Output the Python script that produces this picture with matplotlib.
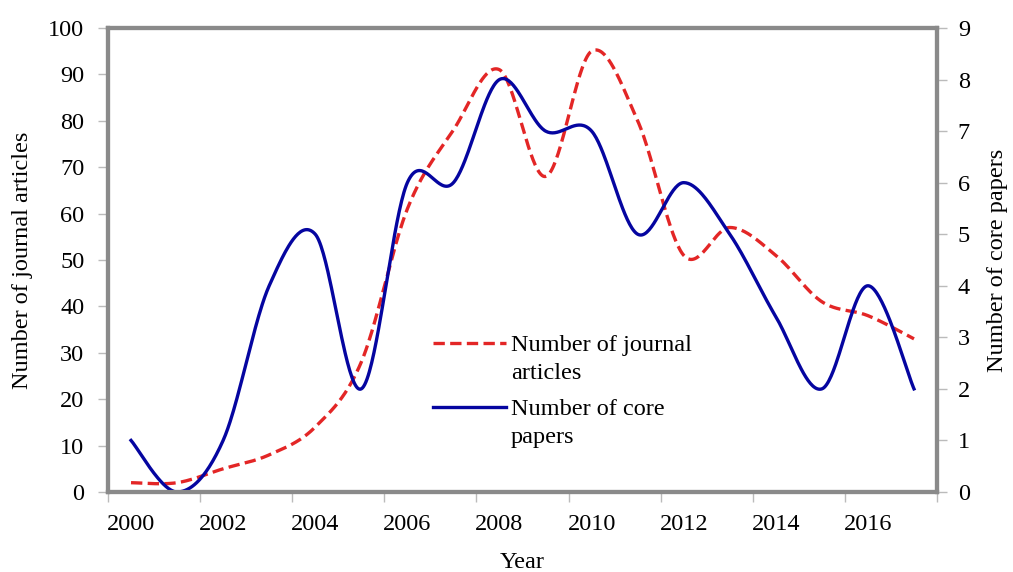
import numpy as np
import matplotlib.pyplot as plt
from matplotlib.offsetbox import HPacker

plt.rcParams['font.family'] = ['Liberation Serif', 'DejaVu Serif']

years = list(range(2000, 2018))
journal_articles = [2, 2, 5, 8, 14, 28, 61, 78, 91, 68, 95, 80, 51, 57, 51, 41, 38, 33]
core_papers = [1, 0, 1, 4, 5, 2, 6, 6, 8, 7, 7, 5, 6, 5, 3.4, 2, 4, 2]
year_labels = [str(y) for y in range(2000, 2017, 2)]

RED = '#e32626'
BLUE = '#0505a0'
GRAY = '#8a8a8a'
FS = 17.5


def smooth(x, y, n=40):
    # catmull-rom curve through the points, like excel's smoothed line
    x = np.asarray(x, float)
    y = np.asarray(y, float)
    px = np.concatenate([[x[0]], x, [x[-1]]])
    py = np.concatenate([[y[0]], y, [y[-1]]])
    t = np.linspace(0, 1, n, endpoint=False)
    xs, ys = [], []
    for i in range(1, len(px) - 2):
        for p, out in ((px, xs), (py, ys)):
            p0, p1, p2, p3 = p[i - 1], p[i], p[i + 1], p[i + 2]
            out.append(0.5 * (2 * p1 + (p2 - p0) * t
                              + (2 * p0 - 5 * p1 + 4 * p2 - p3) * t ** 2
                              + (3 * p1 - p0 - 3 * p2 + p3) * t ** 3))
    xs.append([x[-1]])
    ys.append([y[-1]])
    return np.concatenate(xs), np.concatenate(ys)


fig = plt.figure(figsize=(10.13, 5.72), dpi=100)
ax = fig.add_axes([0.1066, 0.1399, 0.8184, 0.8112])
ax2 = ax.twinx()

sx, sy = smooth(years, journal_articles)
l1, = ax.plot(sx, sy, color=RED, lw=2.4, dashes=(3.4, 1.6),
              label='Number of journal\narticles', clip_on=False)
bx, by = smooth(years, core_papers)
l2, = ax2.plot(bx, by, color=BLUE, lw=2.4,
               label='Number of core\npapers', clip_on=False)

ax.set_xlim(years[0] - 0.5, years[-1] + 0.5)
ax.set_ylim(0, 100)
ax2.set_ylim(0, 9)
ax.set_yticks(range(0, 101, 10))
ax2.set_yticks(range(0, 10))

# category axis: tick marks between categories, labels on every other year
ax.set_xticks(np.arange(years[0] - 0.5, years[-1] + 0.6, 2))
ax.set_xticklabels([])
ax.set_xticks(range(2000, 2017, 2), minor=True)
ax.set_xticklabels(year_labels, minor=True)
ax.tick_params(axis='x', which='minor', length=0, pad=16, labelsize=FS)
ax.tick_params(axis='x', which='major', length=7, width=1, color='#bbbbbb')
ax.tick_params(axis='y', length=7, width=1, color='#bbbbbb', labelsize=FS, pad=10)
ax2.tick_params(axis='y', length=7, width=1, color='#bbbbbb', labelsize=FS, pad=8)

for a in (ax, ax2):
    for s in a.spines.values():
        s.set_color(GRAY)
        s.set_linewidth(3)

ax.set_xlabel('Year', fontsize=FS, labelpad=12)
ax.set_ylabel('Number of journal articles', fontsize=FS, labelpad=11)
ax2.set_ylabel('Number of core papers', fontsize=FS, labelpad=12)

leg = ax2.legend(handles=[l1, l2], loc='upper left', bbox_to_anchor=(0.392, 0.339),
                 frameon=False, fontsize=FS, handlelength=3.0, handletextpad=0.2,
                 labelspacing=0.62, borderpad=0, borderaxespad=0)
for t in leg.get_texts():
    t.set_linespacing(1.45)
for hp in leg.findobj(HPacker):
    hp.align = 'top'

fig.savefig('out.png', dpi=100)
